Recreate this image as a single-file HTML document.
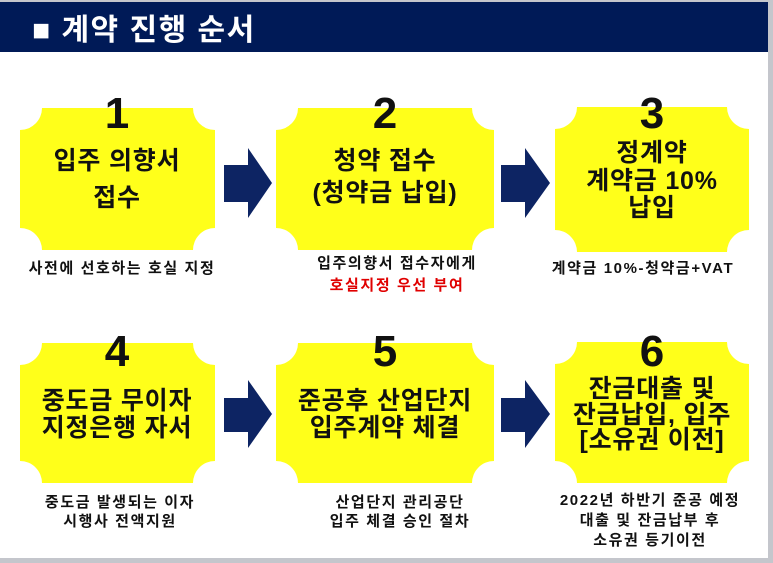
<!DOCTYPE html>
<html><head><meta charset="utf-8"><style>
html,body{margin:0;padding:0;background:#c8c8cc;}
svg{display:block;}
text{font-family:"Liberation Sans","Noto Sans CJK KR","NanumGothic",sans-serif;font-weight:bold;text-anchor:middle;}
</style></head><body>
<svg width="773" height="563" viewBox="0 0 773 563" xmlns="http://www.w3.org/2000/svg">
<rect x="0" y="0" width="773" height="563" fill="#c4c6cc"/>
<rect x="0" y="2" width="768" height="556" fill="#ffffff"/>
<rect x="0" y="2" width="768" height="50" fill="#001a57"/>
<text x="32" y="40" fill="#fff" font-size="30" letter-spacing="1.5" style="text-anchor:start">■ 계약 진행 순서</text>
<g fill="#ffff1a">
<path d="M42,108 L193,108 A22,22 0 0 0 215,130 L215,228 A22,22 0 0 0 193,250 L42,250 A22,22 0 0 0 20,228 L20,130 A22,22 0 0 0 42,108 Z"/>
<path d="M298,108 L472,108 A22,22 0 0 0 494,130 L494,228 A22,22 0 0 0 472,250 L298,250 A22,22 0 0 0 276,228 L276,130 A22,22 0 0 0 298,108 Z"/>
<path d="M577,107 L727,107 A22,22 0 0 0 749,129 L749,230 A22,22 0 0 0 727,252 L577,252 A22,22 0 0 0 555,230 L555,129 A22,22 0 0 0 577,107 Z"/>
<path d="M42,343 L193,343 A22,22 0 0 0 215,365 L215,461 A22,22 0 0 0 193,483 L42,483 A22,22 0 0 0 20,461 L20,365 A22,22 0 0 0 42,343 Z"/>
<path d="M298,343 L472,343 A22,22 0 0 0 494,365 L494,461 A22,22 0 0 0 472,483 L298,483 A22,22 0 0 0 276,461 L276,365 A22,22 0 0 0 298,343 Z"/>
<path d="M577,342 L727,342 A22,22 0 0 0 749,364 L749,461 A22,22 0 0 0 727,483 L577,483 A22,22 0 0 0 555,461 L555,364 A22,22 0 0 0 577,342 Z"/>
</g>
<g fill="#0d2463">
<path d="M224,165 L248,165 L248,148 L272,183 L248,218 L248,202 L224,202 Z"/>
<path d="M501,165 L525,165 L525,148 L550,183 L525,218 L525,202 L501,202 Z"/>
<path d="M224,398 L248,398 L248,380 L272,414 L248,448 L248,432 L224,432 Z"/>
<path d="M501,398 L525,398 L525,380 L550,414 L525,448 L525,432 L501,432 Z"/>
</g>
<g fill="#111" font-size="44">
<text x="117" y="128">1</text>
<text x="385" y="128">2</text>
<text x="652" y="128">3</text>
<text x="117" y="366">4</text>
<text x="385" y="366">5</text>
<text x="652" y="366">6</text>
</g>
<g fill="#111" font-size="25" letter-spacing="0.8">
<text x="117" y="169">입주 의향서</text>
<text x="117" y="206">접수</text>
<text x="385" y="169">청약 접수</text>
<text x="385" y="201">(청약금 납입)</text>
<text x="652" y="161">정계약</text>
<text x="652" y="189">계약금 10%</text>
<text x="652" y="216">납입</text>
<text x="117" y="409">중도금 무이자</text>
<text x="117" y="436">지정은행 자서</text>
<text x="385" y="409">준공후 산업단지</text>
<text x="385" y="436">입주계약  체결</text>
<text x="652" y="397">잔금대출 및</text>
<text x="652" y="423">잔금납입, 입주</text>
<text x="652" y="448">[소유권 이전]</text>
</g>
<g fill="#111" font-size="15" letter-spacing="1.6">
<text x="122" y="273">사전에 선호하는 호실 지정</text>
<text x="397" y="268">입주의향서 접수자에게</text>
<text x="397" y="290" fill="#e00000">호실지정 우선 부여</text>
<text x="643" y="273">계약금 10%-청약금+VAT</text>
<text x="120" y="507">중도금 발생되는 이자</text>
<text x="120" y="526">시행사 전액지원</text>
<text x="400" y="507">산업단지 관리공단</text>
<text x="400" y="526">입주 체결 승인 절차</text>
<text x="650" y="505">2022년 하반기 준공 예정</text>
<text x="650" y="525">대출 및 잔금납부 후</text>
<text x="650" y="545">소유권 등기이전</text>
</g>
</svg>
</body></html>
